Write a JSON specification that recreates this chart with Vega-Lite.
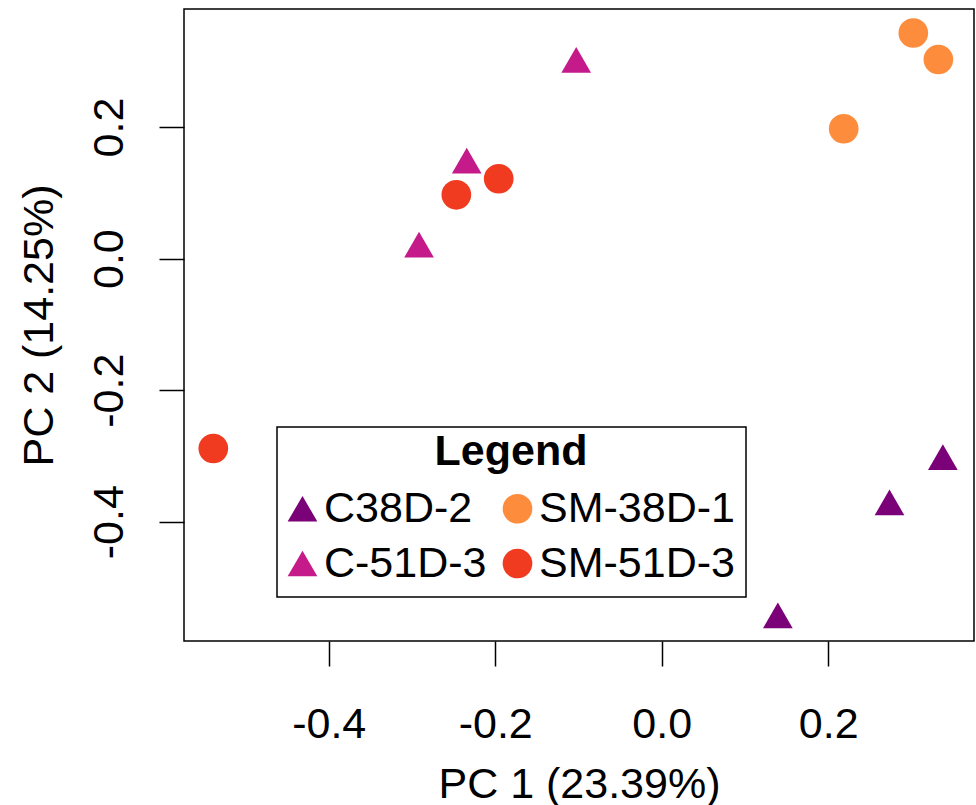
{
  "$schema": "https://vega.github.io/schema/vega-lite/v6.json",
  "autosize": {"type": "none"},
  "padding": {"left": 184, "top": 9, "right": 2, "bottom": 164},
  "width": 790,
  "height": 632,
  "data": {
    "values": [
      {"pc1": 0.3377, "pc2": -0.3019, "group": "C38D-2"},
      {"pc1": 0.2736, "pc2": -0.3706, "group": "C38D-2"},
      {"pc1": 0.1395, "pc2": -0.5422, "group": "C38D-2"},
      {"pc1": -0.1027, "pc2": 0.3022, "group": "C-51D-3"},
      {"pc1": -0.2342, "pc2": 0.1490, "group": "C-51D-3"},
      {"pc1": -0.2915, "pc2": 0.0213, "group": "C-51D-3"},
      {"pc1": 0.3022, "pc2": 0.3430, "group": "SM-38D-1"},
      {"pc1": 0.3323, "pc2": 0.3027, "group": "SM-38D-1"},
      {"pc1": 0.2186, "pc2": 0.1974, "group": "SM-38D-1"},
      {"pc1": -0.2467, "pc2": 0.0970, "group": "SM-51D-3"},
      {"pc1": -0.1958, "pc2": 0.1214, "group": "SM-51D-3"},
      {"pc1": -0.5386, "pc2": -0.2887, "group": "SM-51D-3"}
    ]
  },
  "mark": {"type": "point", "filled": true, "size": 880, "opacity": 1, "strokeWidth": 0},
  "encoding": {
    "x": {
      "field": "pc1", "type": "quantitative",
      "scale": {"domain": [-0.5738, 0.3751], "nice": false, "zero": false},
      "axis": {
        "values": [-0.4, -0.2, 0, 0.2],
        "labelExpr": "replace(format(datum.value, '.1f'), '\u2212', '-')",
        "domain": false, "grid": false,
        "tickSize": 25, "tickWidth": 1.5, "tickColor": "black",
        "labelFontSize": 43, "labelColor": "black", "labelBaseline": "alphabetic", "labelPadding": 71,
        "labelFlush": false, "labelOverlap": false,
        "title": "PC 1 (23.39%)", "titleFontSize": 43, "titleFontWeight": "normal", "titleColor": "black",
        "titleBaseline": "alphabetic", "titleY": 156
      }
    },
    "y": {
      "field": "pc2", "type": "quantitative",
      "scale": {"domain": [-0.5813, 0.3795], "nice": false, "zero": false},
      "axis": {
        "values": [-0.4, -0.2, 0, 0.2],
        "labelExpr": "replace(format(datum.value, '.1f'), '\u2212', '-')",
        "domain": false, "grid": false,
        "tickSize": 25, "tickWidth": 1.5, "tickColor": "black",
        "labelFontSize": 43, "labelColor": "black", "labelAngle": -90, "labelAlign": "center",
        "labelBaseline": "alphabetic", "labelPadding": 37,
        "labelFlush": false, "labelOverlap": false,
        "title": "PC 2 (14.25%)", "titleFontSize": 43, "titleFontWeight": "normal", "titleColor": "black",
        "titleAngle": -90, "titleAlign": "center", "titleBaseline": "alphabetic", "titleX": -132, "titleY": 316
      }
    },
    "color": {
      "field": "group", "type": "nominal",
      "scale": {"domain": ["C38D-2", "C-51D-3", "SM-38D-1", "SM-51D-3"], "range": ["#7A0177", "#C51B8A", "#FD8D3C", "#F03B20"]},
      "legend": {
        "title": "Legend",
        "labelExpr": "test(/^SM/, datum.label) ? '\u00a0' + datum.label + '\u2009' : datum.label"
      }
    },
    "shape": {
      "field": "group", "type": "nominal",
      "scale": {"domain": ["C38D-2", "C-51D-3", "SM-38D-1", "SM-51D-3"], "range": ["triangle-up", "triangle-up", "circle", "circle"]},
      "legend": {"title": "Legend"}
    }
  },
  "config": {
    "font": "Liberation Sans",
    "view": {"stroke": "black", "strokeWidth": 1.5},
    "legend": {
      "orient": "none", "legendX": 93, "legendY": 418,
      "columns": 2, "columnPadding": 15, "rowPadding": 11,
      "padding": 11, "strokeColor": "black", "strokeWidth": 1.5, "fillColor": "white",
      "titleFontSize": 43, "titleFontWeight": "bold", "titleColor": "black", "titleAnchor": "middle", "titlePadding": 6,
      "titleBaseline": "line-top", "titleLineHeight": 30,
      "labelFontSize": 43, "labelColor": "black", "labelOffset": 0, "labelLimit": 400,
      "symbolOffset": -7,
      "symbolSize": 880, "symbolStrokeWidth": 0, "symbolOpacity": 1
    }
  }
}
